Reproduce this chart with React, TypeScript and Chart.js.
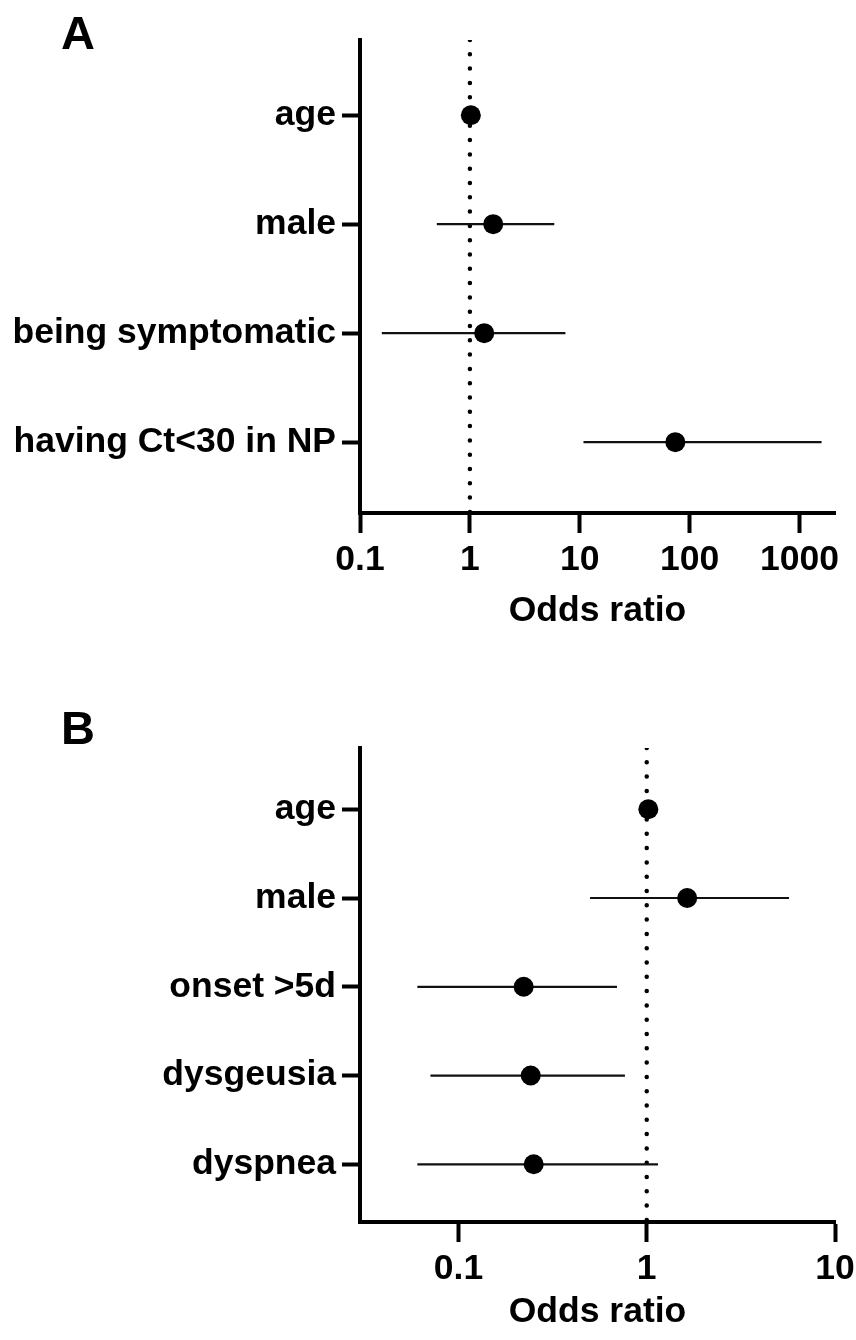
import React, { useEffect, useRef } from 'react';
import { Chart, registerables } from 'chart.js';

Chart.register(...registerables);

// ---------- Data ----------
const categoriesA = ['age', 'male', 'being symptomatic', 'having Ct<30 in NP'];
const oddsA = [1.02, 1.63, 1.35, 74];
const lowerA = [0.98, 0.5, 0.158, 10.8];
const upperA = [1.06, 5.86, 7.4, 1585];
const ticksA = [0.1, 1, 10, 100, 1000];

const categoriesB = ['age', 'male', 'onset >5d', 'dysgeusia', 'dyspnea'];
const oddsB = [1.02, 1.64, 0.222, 0.242, 0.251];
const lowerB = [0.99, 0.5, 0.0605, 0.071, 0.0605];
const upperB = [1.05, 5.7, 0.695, 0.766, 1.148];
const ticksB = [0.1, 1, 10];

const referenceOR = 1;
const axisTitle = 'Odds ratio';

const FAMILY = '"Liberation Sans", Arial, Helvetica, sans-serif';

type PanelProps = {
  cats: string[];
  odds: number[];
  lower: number[];
  upper: number[];
  ticks: number[];
  xMin: number;
  xMax: number;
  height: number;
  padTop: number;
  xAxisHeight: number;
  tickPad: number;
  titlePadBottom: number;
};

function ForestPanel(p: PanelProps) {
  const ref = useRef<HTMLCanvasElement | null>(null);

  useEffect(() => {
    if (!ref.current) return;
    const yMin = 0.31;
    const yMax = p.cats.length + 0.65;
    const font = { family: FAMILY, size: 35.5, weight: 'bold' as const, lineHeight: 1.2 };

    const datasets: any[] = [];
    // points (drawn on top: first dataset)
    datasets.push({
      data: p.cats.map((_, i) => ({ x: p.odds[i], y: i + 1 })),
      backgroundColor: '#000',
      borderWidth: 0,
      pointRadius: 10,
      pointHoverRadius: 10,
      showLine: false,
    });
    // CI lines
    p.cats.forEach((_, i) => {
      datasets.push({
        data: [
          { x: p.lower[i], y: i + 1 },
          { x: p.upper[i], y: i + 1 },
        ],
        borderColor: '#111',
        borderWidth: 2.2,
        pointRadius: 0,
        showLine: true,
      });
    });
    // reference dotted line
    datasets.push({
      data: [
        { x: referenceOR, y: yMin },
        { x: referenceOR, y: yMax },
      ],
      borderColor: '#000',
      borderWidth: 4.5,
      borderDash: [0, 14.3],
      borderCapStyle: 'round',
      pointRadius: 0,
      showLine: true,
    });

    const chart = new Chart(ref.current, {
      type: 'scatter',
      data: { datasets },
      options: {
        animation: false,
        responsive: false,
        events: [],
        layout: { padding: { top: p.padTop, left: 0, right: 21, bottom: 0 } },
        plugins: { legend: { display: false }, tooltip: { enabled: false } },
        scales: {
          x: {
            type: 'logarithmic',
            position: 'bottom',
            min: p.xMin,
            max: p.xMax,
            afterBuildTicks: (s: any) => {
              s.ticks = p.ticks.map((v) => ({ value: v }));
            },
            afterFit: (s: any) => {
              s.height = p.xAxisHeight;
              s.paddingLeft = 0;
              s.paddingRight = 0;
            },
            grid: {
              drawOnChartArea: false,
              drawTicks: true,
              tickLength: 20,
              tickWidth: 4,
              tickColor: '#000',
            },
            border: { display: true, width: 4, color: '#000' },
            ticks: {
              callback: (v: any) => String(v),
              padding: p.tickPad,
              autoSkip: false,
              maxRotation: 0,
              minRotation: 0,
              color: '#000',
              font,
            },
            title: {
              display: true,
              text: axisTitle,
              color: '#000',
              font,
              padding: { top: 0, bottom: p.titlePadBottom },
            },
          },
          y: {
            type: 'linear',
            reverse: true,
            min: yMin,
            max: yMax,
            afterBuildTicks: (s: any) => {
              s.ticks = p.cats.map((_, i) => ({ value: i + 1 }));
            },
            afterFit: (s: any) => {
              s.width = 360;
              s.paddingTop = 0;
              s.paddingBottom = 0;
            },
            grid: {
              drawOnChartArea: false,
              drawTicks: true,
              tickLength: 18,
              tickWidth: 4,
              tickColor: '#000',
            },
            border: { display: true, width: 4, color: '#000' },
            ticks: {
              callback: (_v: any, idx: number) => p.cats[idx],
              padding: 6,
              autoSkip: false,
              color: '#000',
              font,
            },
          },
        },
      } as any,
    });
    return () => chart.destroy();
  }, []);

  return <canvas ref={ref} width={856} height={p.height} style={{ display: 'block', width: 856, height: p.height }} />;
}

const letterStyle: React.CSSProperties = {
  position: 'absolute',
  left: 61,
  fontFamily: FAMILY,
  fontWeight: 'bold',
  fontSize: 47,
  lineHeight: '47px',
  color: '#000',
  margin: 0,
};

export default function App() {
  return (
    <div style={{ position: 'absolute', left: 0, top: 0, width: 856, height: 1340, background: '#fff', overflow: 'hidden' }}>
      <div style={{ position: 'absolute', left: 0, top: 0 }}>
        <ForestPanel
          cats={categoriesA}
          odds={oddsA}
          lower={lowerA}
          upper={upperA}
          ticks={ticksA}
          xMin={0.1}
          xMax={2100}
          height={670}
          padTop={40}
          xAxisHeight={157}
          tickPad={6}
          titlePadBottom={37}
        />
      </div>
      <div style={{ position: 'absolute', left: 0, top: 670 }}>
        <ForestPanel
          cats={categoriesB}
          odds={oddsB}
          lower={lowerB}
          upper={upperB}
          ticks={ticksB}
          xMin={0.03}
          xMax={10}
          height={670}
          padTop={78}
          xAxisHeight={118}
          tickPad={6}
          titlePadBottom={6}
        />
      </div>
      <div style={{ ...letterStyle, top: 9 }}>A</div>
      <div style={{ ...letterStyle, top: 704 }}>B</div>
    </div>
  );
}
